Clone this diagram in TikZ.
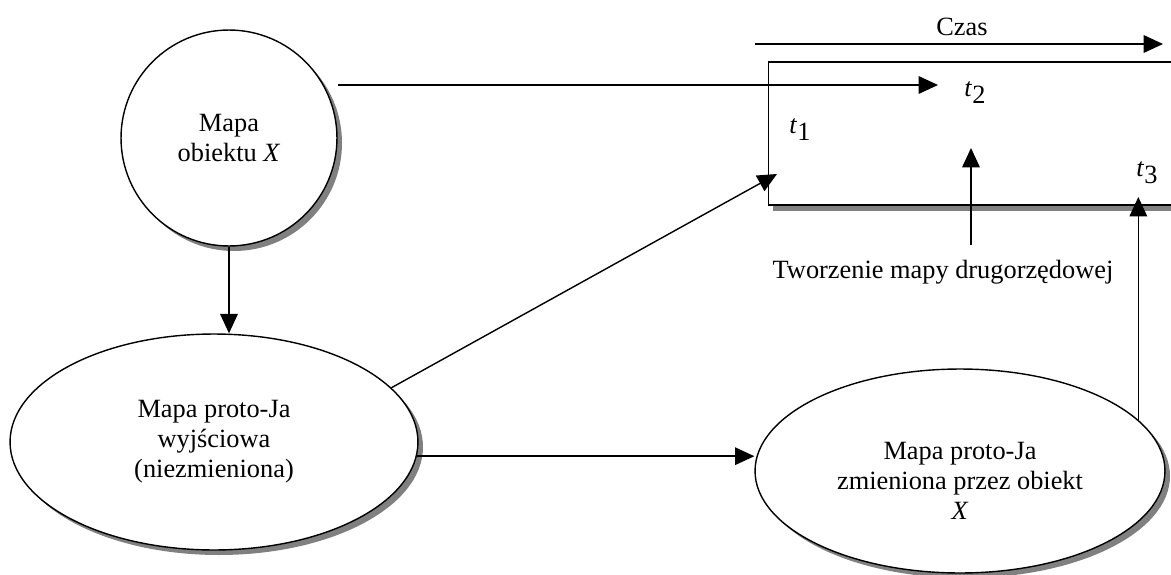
\documentclass[tikz,border=0pt]{standalone}
\usepackage{fontspec}
\setmainfont{Liberation Serif}
\usetikzlibrary{arrows.meta,shapes.geometric,backgrounds,positioning}
\newcommand{\tsub}[1]{\textit{t}\raisebox{-4pt}{#1}}
\tikzset{
    mapa/.style =   {circle,
                    fill=white,
                    draw=black,
                    text=black,
                    line width=0.8pt,
                    align=center,
                    minimum size=4.32cm},
    proto/.style =  {ellipse,
                    fill=white,
                    draw=black,
                    text=black,
                    line width=0.8pt,
                    align=center,
                    inner sep=0pt},
    okno/.style =   {rectangle,
                    fill=white,
                    draw=black,
                    line width=0.8pt,
                    minimum width=8.62cm,
                    minimum height=2.86cm},
    cien/.style =   {fill=black!50, draw=none},
    etykieta/.style = {text=black, inner sep=1pt, align=center},
    -,
    >={Triangle[length=11pt,width=10pt]},
    font=\fontsize{15pt}{17pt}\selectfont}

\begin{document}
\begin{tikzpicture}[x=0.02cm,y=-0.02cm,line width=0.8pt]
    \clip (0,0) rectangle (1171,575);
    % okno czasu
    \node[okno]   (okno)   at (984,133.5)      {};
    \node[mapa]   (mapaX)  at (229,138)        {Mapa\\obiektu \textit{X}};
    \node[proto,minimum width=8.16cm,minimum height=4.32cm] (protoA) at (214,442)
                  {Mapa proto-Ja\\wyjściowa\\(niezmieniona)};
    \node[proto,minimum width=8.2cm,minimum height=4.08cm]  (protoB) at (960,471) {};
    \node[etykieta] (protoBtxt) at (960,481)
                  {Mapa proto-Ja\\zmieniona przez obiekt\\\textit{X}};
    % cienie
    \begin{scope}[on background layer]
        \fill[cien] ([shift={(5,5)}]okno.south west) rectangle ([shift={(5,5)}]okno.north east);
        \fill[cien] ([shift={(5,5)}]mapaX.center) circle[radius=108];
        \fill[cien] ([shift={(5,5)}]protoA.center) ellipse[x radius=204,y radius=108];
        \fill[cien] ([shift={(5,5)}]protoB.center) ellipse[x radius=205,y radius=102];
    \end{scope}
    % etykiety
    \node[etykieta] (czas) at (962,27)  {Czas};
    \node[etykieta] (t1)   at (800,130) {\tsub{1}};
    \node[etykieta] (t2)   at (975,93)  {\tsub{2}};
    \node[etykieta] (t3)   at (1147,173) {\tsub{3}};
    \node[etykieta] (tworz) at (943,272) {Tworzenie mapy drugorzędowej};
    \coordinate (czasL) at (755,44);
    \coordinate (czasR) at (1163,44);
    \coordinate (xStart) at (338,85);
    \coordinate (xEnd)   at (938,85);
    \coordinate (t1tip)  at (777,174);
    \coordinate (t3tip)  at (1139,197);
    \coordinate (t2tip)  at (971,148);
    \coordinate (tworzStart) at (971,245);
    % strzalki
    \path [->] (czasL) edge (czasR);
    \path [->] (xStart) edge (xEnd);
    \path [->] (mapaX.south) edge (mapaX.south |- protoA.north);
    \path [->] (protoA.17) edge (t1tip);
    \path [->] (protoA.-4) edge (protoA.-4 -| protoB.west);
    \path [->] (protoB.16) edge (protoB.16 |- t3tip);
    \path [->] (tworzStart) edge (t2tip);
\end{tikzpicture}
\end{document}
